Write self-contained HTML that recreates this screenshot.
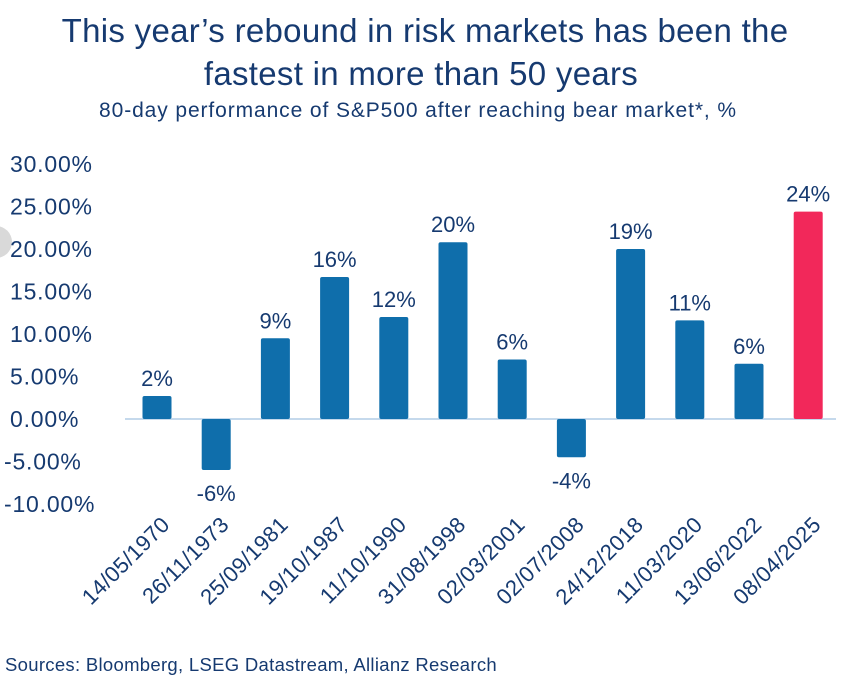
<!DOCTYPE html>
<html><head><meta charset="utf-8"><style>
body{margin:0;background:#fff;width:843px;height:678px;overflow:hidden;font-family:"Liberation Sans",sans-serif;}
svg text{font-family:"Liberation Sans",sans-serif;fill:#163a70;}
</style></head><body>
<svg id="chart" width="843" height="678" xmlns="http://www.w3.org/2000/svg">
<circle cx="-4" cy="242" r="16" fill="#d9d9d9"/>
<text x="425" y="42" font-size="33" text-anchor="middle" letter-spacing="0.3">This year’s rebound in risk markets has been the</text>
<text x="421" y="85" font-size="33" text-anchor="middle" letter-spacing="0.3">fastest in more than 50 years</text>
<text x="418" y="117" font-size="21" text-anchor="middle" letter-spacing="0.9">80-day performance of S&amp;P500 after reaching bear market*, %</text>
<g id="yaxis"></g><g id="bars"></g><g id="xlabels"></g>
<text x="5" y="671" font-size="18.5" letter-spacing="0.3">Sources: Bloomberg, LSEG Datastream, Allianz Research</text>
</svg>
<script>
const categories=["14/05/1970","26/11/1973","25/09/1981","19/10/1987","11/10/1990","31/08/1998","02/03/2001","02/07/2008","24/12/2018","11/03/2020","13/06/2022","08/04/2025"];
const values=[2.7,-6.0,9.5,16.7,12.0,20.8,7.0,-4.5,20.0,11.6,6.5,24.4];
const valueLabels=["2%","-6%","9%","16%","12%","20%","6%","-4%","19%","11%","6%","24%"];
const yTicks=[30,25,20,15,10,5,0,-5,-10];
const NS="http://www.w3.org/2000/svg";
const y0=419,pxPer=8.5;
const yScale=v=>y0-v*pxPer;
const xScale=i=>157+i*59.2;
const bw=29;
function mk(t,a){const e=document.createElementNS(NS,t);for(const k in a)e.setAttribute(k,a[k]);return e;}
const ya=document.getElementById('yaxis');
yTicks.forEach(v=>{const t=mk('text',{x:v<0?4:10,y:yScale(v)+8,'font-size':23,'letter-spacing':0.8});t.textContent=v.toFixed(2)+'%';


ya.appendChild(t);});
const axl=mk('line',{x1:125,x2:836,y1:y0,y2:y0,stroke:'#c5d9ec','stroke-width':2});


ya.appendChild(axl);
const bg=document.getElementById('bars'),xl=document.getElementById('xlabels');
values.forEach((v,i)=>{const cx=xScale(i);const top=Math.min(yScale(v),y0),h=Math.abs(yScale(v)-y0);
const r=mk('rect',{x:cx-bw/2,y:top,width:bw,height:h,rx:2,fill:i==values.length-1?'#f2285a':'#0f6eab'});


bg.appendChild(r);
const ly=v>=0?yScale(v)-10:yScale(v)+31;
const l=mk('text',{x:cx,y:ly,'font-size':22,'text-anchor':'middle'});l.textContent=valueLabels[i];


bg.appendChild(l);
const tx=cx+14,ty=526;
const c=mk('text',{x:tx,y:ty,'font-size':22,'text-anchor':'end','letter-spacing':0.3,transform:`rotate(-45 ${tx} ${ty})`});c.textContent=categories[i];


xl.appendChild(c);});
</script>
</body></html>
